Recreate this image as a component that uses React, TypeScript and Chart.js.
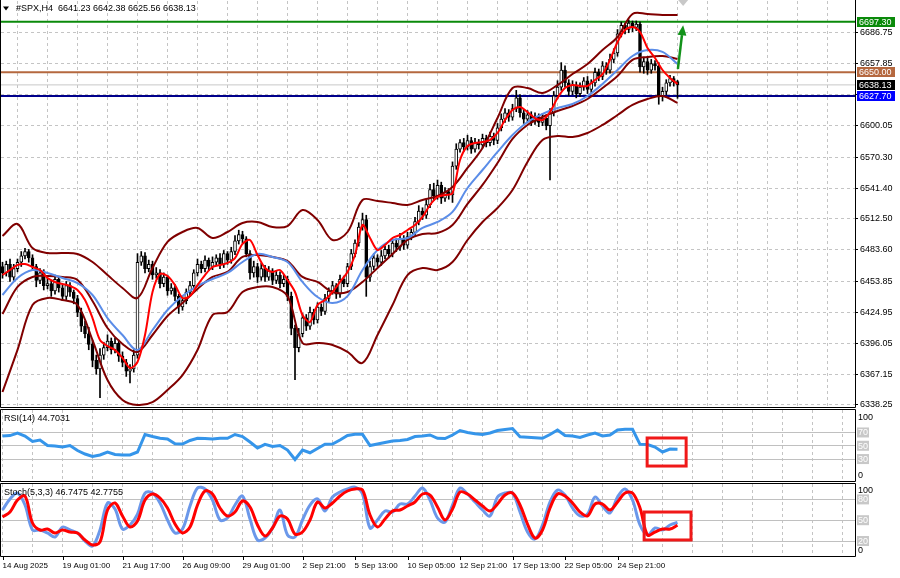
import React, { useEffect, useRef } from "react";
import { Chart, registerables } from "chart.js";

Chart.register(...registerables);

const FONT_FAMILY = '"Liberation Sans", Arial, sans-serif';
const FONT_PX = 9;
const FONT = `${FONT_PX}px ${FONT_FAMILY}`;
const XFONT = `8px ${FONT_FAMILY}`;

// ---------------- data ----------------
const symbolTitle = "#SPX,H4";
const xLabelBars = [0, 16, 32, 48, 64, 80, 94, 108, 122, 136, 150, 164];
const xLabels = [
  "14 Aug 2025", "19 Aug 01:00", "21 Aug 17:00", "26 Aug 09:00", "29 Aug 01:00", "2 Sep 21:00",
  "5 Sep 13:00", "10 Sep 05:00", "12 Sep 21:00", "17 Sep 13:00", "22 Sep 05:00", "24 Sep 21:00",
];
const priceTicks = [6338.25, 6367.15, 6396.05, 6424.95, 6453.85, 6483.6, 6512.5, 6541.4, 6570.3, 6600.05, 6628.95, 6657.85, 6686.75];
const resistanceLevel = 6697.3;
const pivotLevel = 6650.0;
const supportLevel = 6627.7;

const opens = [
  6468, 6462, 6470, 6458, 6466, 6472, 6478, 6482, 6476, 6468,
  6455, 6462, 6450, 6452, 6445, 6456, 6448, 6440, 6450, 6444,
  6438, 6425, 6412, 6405, 6395, 6380, 6372, 6385, 6392, 6398,
  6390, 6396, 6384, 6378, 6370, 6372, 6385, 6472, 6478, 6466,
  6470, 6460, 6462, 6452, 6458, 6445, 6448, 6440, 6430, 6436,
  6444, 6450, 6462, 6470, 6466, 6474, 6468, 6472, 6476, 6470,
  6480, 6474, 6482, 6492, 6498, 6494, 6480, 6462, 6468, 6458,
  6466, 6458, 6464, 6455, 6460, 6452, 6456, 6440, 6410, 6392,
  6405, 6420, 6412, 6425, 6418, 6430, 6426, 6438, 6445, 6450,
  6442, 6456, 6452, 6468, 6480, 6490, 6505, 6512, 6458, 6468,
  6476, 6472, 6478, 6484, 6480, 6490, 6486, 6494, 6488, 6496,
  6500, 6510, 6520, 6516, 6526, 6540, 6534, 6544, 6532, 6538,
  6535, 6562, 6578, 6584, 6580, 6586, 6578, 6584, 6582, 6588,
  6584, 6590, 6586, 6598, 6606, 6612, 6608, 6616, 6626, 6612,
  6606, 6610, 6604, 6608, 6603, 6607, 6600, 6612, 6628, 6636,
  6652, 6640, 6632, 6638, 6630, 6636, 6642, 6634, 6640, 6650,
  6646, 6656, 6652, 6662, 6668, 6686, 6694, 6690, 6696, 6692,
  6695, 6655, 6660, 6652, 6658, 6656, 6627, 6632, 6640, 6644,
  6641.23,
];
const highs = [
  6472, 6473, 6475, 6470, 6475, 6482, 6485, 6484, 6479, 6470,
  6466, 6465, 6457, 6455, 6460, 6458, 6451, 6454, 6453, 6446,
  6441, 6429, 6417, 6411, 6399, 6385, 6391, 6397, 6404, 6401,
  6401, 6399, 6388, 6381, 6376, 6390, 6480, 6482, 6481, 6474,
  6473, 6467, 6465, 6462, 6460, 6452, 6451, 6442, 6440, 6447,
  6454, 6465, 6475, 6473, 6478, 6476, 6477, 6479, 6480, 6483,
  6482, 6486, 6497, 6502, 6501, 6496, 6483, 6473, 6471, 6471,
  6469, 6468, 6466, 6464, 6463, 6460, 6459, 6444, 6413, 6410,
  6424, 6423, 6430, 6428, 6434, 6433, 6442, 6448, 6454, 6452,
  6460, 6459, 6471, 6484, 6493, 6509, 6518, 6516, 6473, 6480,
  6479, 6483, 6487, 6488, 6493, 6494, 6499, 6497, 6500, 6503,
  6514, 6525, 6523, 6530, 6545, 6546, 6549, 6547, 6542, 6541,
  6566, 6583, 6587, 6588, 6591, 6589, 6588, 6587, 6592, 6591,
  6594, 6593, 6602, 6611, 6616, 6615, 6620, 6633, 6629, 6615,
  6614, 6613, 6612, 6611, 6611, 6610, 6616, 6632, 6642, 6659,
  6656, 6643, 6642, 6641, 6640, 6645, 6646, 6643, 6654, 6653,
  6660, 6659, 6667, 6672, 6690, 6697, 6696, 6699, 6698, 6698,
  6697, 6664, 6663, 6662, 6661, 6659, 6636, 6643, 6647, 6646,
  6642.38,
];
const lows = [
  6457, 6459, 6454, 6455, 6463, 6468, 6475, 6472, 6465, 6449,
  6452, 6446, 6447, 6440, 6442, 6444, 6436, 6437, 6440, 6433,
  6421, 6407, 6401, 6390, 6374, 6367, 6345, 6381, 6389, 6386,
  6387, 6379, 6374, 6365, 6359, 6369, 6382, 6469, 6462, 6463,
  6456, 6457, 6448, 6449, 6441, 6442, 6436, 6424, 6427, 6433,
  6441, 6447, 6459, 6462, 6463, 6464, 6465, 6469, 6466, 6467,
  6470, 6471, 6479, 6489, 6490, 6477, 6456, 6458, 6453, 6455,
  6454, 6455, 6451, 6452, 6448, 6449, 6436, 6404, 6362, 6388,
  6402, 6408, 6409, 6414, 6415, 6422, 6423, 6435, 6442, 6438,
  6439, 6449, 6449, 6465, 6477, 6487, 6502, 6440, 6454, 6465,
  6468, 6469, 6475, 6476, 6477, 6482, 6483, 6484, 6485, 6493,
  6497, 6507, 6512, 6513, 6523, 6530, 6531, 6527, 6529, 6531,
  6528, 6559, 6575, 6576, 6577, 6574, 6575, 6578, 6579, 6580,
  6581, 6582, 6583, 6595, 6603, 6604, 6605, 6613, 6608, 6602,
  6603, 6600, 6601, 6599, 6600, 6596, 6549, 6609, 6625, 6633,
  6636, 6628, 6629, 6626, 6627, 6633, 6630, 6631, 6637, 6642,
  6643, 6648, 6649, 6659, 6665, 6683, 6686, 6687, 6688, 6689,
  6650, 6649, 6648, 6649, 6652, 6620, 6623, 6629, 6637, 6637,
  6625.56,
];
const closes = [
  6462, 6470, 6458, 6466, 6472, 6478, 6482, 6476, 6468, 6455,
  6462, 6450, 6452, 6445, 6456, 6448, 6440, 6450, 6444, 6438,
  6425, 6412, 6405, 6395, 6380, 6372, 6385, 6392, 6398, 6390,
  6396, 6384, 6378, 6370, 6372, 6385, 6472, 6478, 6466, 6470,
  6460, 6462, 6452, 6458, 6445, 6448, 6440, 6430, 6436, 6444,
  6450, 6462, 6470, 6466, 6474, 6468, 6472, 6476, 6470, 6480,
  6474, 6482, 6492, 6498, 6494, 6480, 6462, 6468, 6458, 6466,
  6458, 6464, 6455, 6460, 6452, 6456, 6440, 6410, 6392, 6405,
  6420, 6412, 6425, 6418, 6430, 6426, 6438, 6445, 6450, 6442,
  6456, 6452, 6468, 6480, 6490, 6505, 6512, 6458, 6468, 6476,
  6472, 6478, 6484, 6480, 6490, 6486, 6494, 6488, 6496, 6500,
  6510, 6520, 6516, 6526, 6540, 6534, 6544, 6532, 6538, 6535,
  6562, 6578, 6584, 6580, 6586, 6578, 6584, 6582, 6588, 6584,
  6590, 6586, 6598, 6606, 6612, 6608, 6616, 6626, 6612, 6606,
  6610, 6604, 6608, 6603, 6607, 6600, 6612, 6628, 6636, 6652,
  6640, 6632, 6638, 6630, 6636, 6642, 6634, 6640, 6650, 6646,
  6656, 6652, 6662, 6668, 6686, 6694, 6690, 6696, 6692, 6695,
  6655, 6660, 6652, 6658, 6656, 6627, 6632, 6640, 6644, 6641.23,
  6638.13,
];

// band / slow MA values, one every 4 bars
const bandStep = 4;
const bbUpper = [
  6496.6, 6507.8, 6485.3, 6480.6, 6480.6, 6479.7, 6472.2, 6460.0, 6447.9, 6438.5,
  6466.6, 6491.0, 6500.3, 6504.1, 6494.7, 6500.3, 6508.7, 6509.7, 6505.0, 6505.9,
  6520.9, 6511.6, 6492.8, 6500.3, 6530.3, 6529.3, 6527.5, 6525.6, 6530.3, 6534.0,
  6542.5, 6560.3, 6579.0, 6607.1, 6635.2, 6635.2, 6630.5, 6638.0, 6648.3, 6657.7,
  6670.8, 6683.0, 6704.6, 6704.6, 6703.6, 6703.6,
];
const bbMiddle = [
  6423.5, 6448.8, 6458.2, 6459.1, 6458.2, 6455.3, 6435.6, 6410.4, 6395.4, 6387.9,
  6403.8, 6421.6, 6433.8, 6446.9, 6458.2, 6462.9, 6476.9, 6478.8, 6476.9, 6473.1,
  6458.2, 6453.5, 6444.1, 6444.1, 6453.5, 6466.6, 6479.7, 6492.8, 6498.4, 6499.4,
  6506.9, 6526.6, 6544.4, 6565.0, 6587.5, 6600.6, 6608.1, 6613.7, 6618.4, 6624.9,
  6635.2, 6646.5, 6661.5, 6664.3, 6665.2, 6662.4,
];
const bbLower = [
  6350.4, 6389.8, 6431.9, 6438.5, 6436.6, 6431.9, 6399.1, 6361.6, 6342.9, 6338.2,
  6341.0, 6352.3, 6366.3, 6389.8, 6422.5, 6425.4, 6444.1, 6448.8, 6448.8, 6440.3,
  6396.3, 6396.3, 6394.4, 6387.9, 6377.6, 6403.8, 6431.9, 6460.0, 6466.6, 6464.7,
  6472.2, 6492.8, 6509.7, 6522.8, 6539.7, 6565.9, 6586.5, 6590.2, 6589.3, 6593.1,
  6600.6, 6609.9, 6619.3, 6624.9, 6627.7, 6621.2,
];
const maSlow = [
  6441.3, 6457.2, 6464.7, 6461.9, 6457.2, 6452.5, 6441.3, 6419.7, 6403.8, 6389.8,
  6408.5, 6427.2, 6440.3, 6449.7, 6456.3, 6461.9, 6472.2, 6479.7, 6476.9, 6472.2,
  6453.5, 6439.4, 6433.8, 6440.3, 6464.7, 6483.4, 6492.8, 6494.7, 6504.1, 6509.7,
  6519.1, 6541.5, 6558.4, 6575.3, 6591.2, 6603.4, 6610.9, 6616.5, 6620.2, 6627.7,
  6639.0, 6652.1, 6665.2, 6670.8, 6669.0, 6657.7,
];

// fast MA and oscillators, one every 2 bars
const fastStep = 2;
const maFast = [
  6460.0, 6464.7, 6469.4, 6470.3, 6467.5, 6464.7, 6457.2, 6453.5, 6451.6, 6449.7,
  6446.0, 6436.6, 6419.7, 6399.1, 6393.5, 6389.8, 6382.3, 6372.9, 6378.5, 6403.8,
  6444.1, 6461.0, 6459.1, 6450.6, 6438.5, 6440.3, 6450.6, 6460.0, 6467.5, 6469.4,
  6471.3, 6475.9, 6489.1, 6492.8, 6478.8, 6466.6, 6462.9, 6464.7, 6455.3, 6444.1,
  6422.5, 6416.0, 6431.9, 6436.6, 6444.1, 6453.5, 6462.9, 6478.8, 6506.9, 6494.7,
  6483.4, 6488.1, 6494.7, 6497.5, 6502.2, 6506.9, 6514.4, 6525.6, 6533.1, 6535.0,
  6536.8, 6567.8, 6580.9, 6583.7, 6584.6, 6586.5, 6593.1, 6605.2, 6614.6, 6617.4,
  6612.7, 6607.1, 6605.2, 6612.7, 6625.9, 6635.2, 6638.0, 6637.1, 6637.1, 6642.7,
  6648.3, 6661.5, 6678.3, 6689.6, 6692.4, 6687.7, 6672.7, 6663.3, 6652.1, 6644.6,
  6639.0,
];
const rsiValues = [
  64.7, 65.3, 69.2, 64.7, 56.4, 58.6, 50.4, 49.6, 48.1, 50.4,
  42.9, 37.6, 33.8, 36.1, 40.6, 36.8, 36.1, 36.1, 40.6, 66.9,
  63.9, 61.2, 60.2, 52.9, 52.6, 57.9, 61.2, 60.9, 60.2, 61.2,
  61.2, 66.9, 63.9, 55.6, 46.6, 52.2, 48.9, 50.4, 43.6, 29.3,
  43.6, 39.5, 45.9, 52.2, 52.6, 58.6, 65.4, 67.2, 67.2, 50.4,
  52.6, 54.9, 57.1, 57.9, 59.4, 63.9, 64.7, 66.2, 61.2, 60.9,
  66.2, 72.9, 69.9, 68.0, 66.9, 69.2, 72.9, 74.4, 75.9, 63.6,
  62.7, 62.0, 61.2, 66.9, 73.7, 65.4, 64.7, 62.4, 66.2, 69.2,
  64.7, 66.2, 73.7, 74.7, 74.7, 52.2, 51.9, 48.1, 40.6, 45.1,
  44.7031,
];
const stochMain = [
  64.7, 80.6, 89.2, 71.9, 35.9, 35.9, 31.6, 25.8, 40.2, 35.9,
  31.6, 20.0, 12.8, 35.9, 74.8, 66.1, 37.3, 43.1, 58.9, 89.2,
  89.2, 74.8, 50.3, 31.6, 37.3, 70.5, 96.4, 95.0, 79.1, 50.3,
  53.2, 71.9, 84.9, 51.7, 21.5, 24.3, 38.8, 64.7, 28.7, 25.8,
  50.3, 71.9, 80.6, 63.3, 83.4, 90.6, 95.0, 97.8, 87.8, 38.8,
  50.3, 63.3, 61.8, 73.3, 73.3, 84.9, 96.4, 79.1, 53.2, 47.4,
  71.9, 96.4, 87.8, 76.2, 64.7, 56.1, 83.4, 89.2, 89.2, 61.8,
  33.0, 22.9, 43.1, 76.2, 93.5, 86.3, 67.6, 56.1, 58.9, 83.4,
  70.5, 60.4, 83.4, 95.0, 79.1, 43.1, 28.7, 38.8, 35.9, 43.1,
  46.7475,
];
const stochSignal = [
  54.6, 61.8, 79.1, 84.9, 46.0, 35.9, 37.3, 31.6, 35.9, 33.0,
  31.6, 21.5, 14.3, 18.6, 64.7, 74.8, 56.1, 40.2, 48.9, 79.1,
  87.8, 82.0, 67.6, 44.5, 31.6, 40.2, 71.9, 92.1, 87.8, 67.6,
  56.1, 61.8, 77.7, 69.0, 43.1, 27.2, 38.8, 56.1, 51.7, 30.1,
  33.0, 50.3, 76.2, 67.6, 74.8, 84.9, 92.1, 95.0, 93.5, 57.5,
  40.2, 51.7, 63.3, 64.7, 70.5, 76.2, 87.8, 86.3, 69.0, 50.3,
  66.1, 90.6, 87.8, 79.1, 70.5, 63.3, 73.3, 86.3, 89.2, 71.9,
  44.5, 24.3, 35.9, 67.6, 87.8, 84.9, 74.8, 61.8, 56.1, 73.3,
  73.3, 64.7, 76.2, 89.2, 89.2, 67.6, 28.7, 33.0, 37.3, 37.3,
  42.7755,
];
const rsiLevels = [30, 50, 70];
const stochLevels = [20, 50, 80];

// ---------------- layout / style ----------------
const X_MIN = -0.4;
const X_MAX = 227.33;
const GRID_BARS = Array.from({ length: 29 }, (_, k) => k * 8);
const GRID_COLOR = "#c4c4c4";
const LEVEL_COLOR = "#c0c0c0";

const series = (vals: number[], step: number) => vals.map((v, k) => ({ x: k * step, y: v }));

const lineDs = (vals: number[], step: number, color: string, width: number, order: number, tension = 0.35) => ({
  type: "line" as const,
  data: series(vals, step),
  borderColor: color,
  borderWidth: width,
  pointRadius: 0,
  tension,
  order,
});

const xScaleOpts = () => ({
  type: "linear" as const,
  min: X_MIN,
  max: X_MAX,
  offset: false,
  afterBuildTicks: (s: any) => {
    s.ticks = GRID_BARS.map((v) => ({ value: v }));
  },
  afterFit: (s: any) => {
    s.height = 0;
    s.paddingLeft = 0;
    s.paddingRight = 0;
  },
  ticks: { display: false },
  grid: { color: GRID_COLOR, lineWidth: 1, drawTicks: false },
  border: { display: false, dash: [3, 3] },
});

const baseOptions = (padding: any) => ({
  responsive: false,
  maintainAspectRatio: false,
  animation: false as const,
  events: [] as any[],
  layout: { padding },
  plugins: { legend: { display: false }, tooltip: { enabled: false } },
});

const drawFrame = (ctx: CanvasRenderingContext2D, a: any, top: boolean) => {
  ctx.save();
  ctx.strokeStyle = "#000";
  ctx.lineWidth = 1;
  ctx.beginPath();
  if (top) {
    ctx.moveTo(a.left - 0.5, a.top - 0.5);
    ctx.lineTo(a.right + 0.5, a.top - 0.5);
  }
  ctx.moveTo(a.left - 0.5, top ? a.top - 0.5 : 0);
  ctx.lineTo(a.left - 0.5, a.bottom + 0.5);
  ctx.lineTo(a.right + 0.5, a.bottom + 0.5);
  ctx.lineTo(a.right + 0.5, top ? a.top - 0.5 : 0);
  ctx.stroke();
  ctx.restore();
};

const drawRedBox = (chart: any, box: number[]) => {
  const { ctx, scales } = chart;
  const x0 = scales.x.getPixelForValue(box[0]);
  const x1 = scales.x.getPixelForValue(box[1]);
  const y0 = scales.y.getPixelForValue(box[2]);
  const y1 = scales.y.getPixelForValue(box[3]);
  ctx.save();
  ctx.strokeStyle = "#f01818";
  ctx.lineWidth = 3;
  ctx.strokeRect(x0, y0, x1 - x0, y1 - y0);
  ctx.restore();
};

const drawLevelLabels = (chart: any, items: [number, number, boolean][]) => {
  const { ctx, chartArea: a, scales } = chart;
  ctx.save();
  ctx.font = FONT;
  ctx.textBaseline = "middle";
  ctx.textAlign = "left";
  items.forEach(([v, off, boxed]) => {
    const py = scales.y.getPixelForValue(v) + off;
    if (boxed) {
      ctx.fillStyle = "#c8c8c8";
      ctx.fillRect(a.right + 2, py - 5, 12, 10);
      ctx.fillStyle = "#ffffff";
    } else {
      ctx.fillStyle = "#000";
    }
    ctx.fillText(String(v), a.right + 3, py + 0.5);
  });
  ctx.restore();
};

// ---------------- charts ----------------
function buildMain(canvas: HTMLCanvasElement) {
  const n = closes.length - 1;
  const last = closes[n];
  const levelDs = (v: number, color: string, w: number) => ({
    type: "line" as const,
    data: [{ x: X_MIN, y: v }, { x: X_MAX, y: v }],
    borderColor: color,
    borderWidth: w,
    pointRadius: 0,
    order: 20,
  });
  const tags: [number, string][] = [
    [resistanceLevel, "#0a8a0a"],
    [pivotLevel, "#b5683f"],
    [last, "#000000"],
    [supportLevel, "#0000ff"],
  ];
  const decor = {
    id: "mainDecor",
    afterDraw(chart: any) {
      const { ctx, chartArea: a, scales } = chart;
      const { x, y } = scales;
      drawFrame(ctx, a, false);
      ctx.save();
      ctx.font = FONT;
      ctx.textBaseline = "middle";
      ctx.textAlign = "left";
      // price tags
      tags.forEach(([v, bg]) => {
        const py = Math.round(y.getPixelForValue(v));
        ctx.fillStyle = bg;
        ctx.fillRect(a.right + 2, py - 5, 38, 10);
        ctx.fillStyle = "#fff";
        ctx.fillText(v.toFixed(2), a.right + 4, py + 0.5);
      });
      // header
      ctx.fillStyle = "#000";
      ctx.beginPath();
      ctx.moveTo(3, 6.5);
      ctx.lineTo(9, 6.5);
      ctx.lineTo(6, 10.5);
      ctx.closePath();
      ctx.fill();
      const hdr = `${symbolTitle}  ${opens[n].toFixed(2)} ${highs[n].toFixed(2)} ${lows[n].toFixed(2)} ${closes[n].toFixed(2)}`;
      ctx.fillText(hdr, 16, 9);
      // chart-shift marker
      const sx = x.getPixelForValue(181.5);
      ctx.fillStyle = "#c8c8c8";
      ctx.beginPath();
      ctx.moveTo(sx - 5, 0);
      ctx.lineTo(sx + 5, 0);
      ctx.lineTo(sx, 6);
      ctx.closePath();
      ctx.fill();
      // green arrow
      const ax0 = x.getPixelForValue(180.1);
      const ay0 = y.getPixelForValue(6653);
      const ax1 = x.getPixelForValue(181.5);
      const ay1 = y.getPixelForValue(6694);
      const ang = Math.atan2(ay1 - ay0, ax1 - ax0);
      const hl = 10;
      const hw = 4.5;
      const bx = ax1 - hl * Math.cos(ang);
      const by = ay1 - hl * Math.sin(ang);
      ctx.strokeStyle = "#12921a";
      ctx.fillStyle = "#12921a";
      ctx.lineWidth = 2.5;
      ctx.beginPath();
      ctx.moveTo(ax0, ay0);
      ctx.lineTo(bx, by);
      ctx.stroke();
      ctx.beginPath();
      ctx.moveTo(ax1, ay1);
      ctx.lineTo(bx + hw * Math.sin(ang), by - hw * Math.cos(ang));
      ctx.lineTo(bx - hw * Math.sin(ang), by + hw * Math.cos(ang));
      ctx.closePath();
      ctx.fill();
      ctx.restore();
    },
  };
  return new Chart(canvas, {
    type: "line",
    data: {
      datasets: [
        levelDs(resistanceLevel, "#0a8a0a", 2),
        levelDs(pivotLevel, "#b5683f", 2),
        levelDs(last, "#c8c8c8", 1),
        levelDs(supportLevel, "#00008b", 2),
        {
          type: "bar",
          data: closes.map((_, i) => ({ x: i, y: [lows[i], highs[i]] })),
          backgroundColor: "#000",
          borderWidth: 0,
          barThickness: 1,
          grouped: false,
          order: 16,
        } as any,
        {
          type: "bar",
          data: closes.map((c, i) => ({ x: i, y: [opens[i], c] })),
          backgroundColor: (c: any) => (closes[c.dataIndex] >= opens[c.dataIndex] ? "#ffffff" : "#000000"),
          borderColor: "#000",
          borderWidth: 1,
          borderSkipped: false,
          barThickness: 3,
          grouped: false,
          order: 15,
        } as any,
        lineDs(bbUpper, bandStep, "#800000", 2, 6),
        lineDs(bbMiddle, bandStep, "#800000", 2, 6),
        lineDs(bbLower, bandStep, "#800000", 2, 6),
        lineDs(maSlow, bandStep, "#5b8de8", 2, 5),
        lineDs(maFast, fastStep, "#ff0000", 2, 4, 0.3),
      ],
    },
    options: {
      ...baseOptions({ top: 1, bottom: 2, left: 1, right: 0 }),
      scales: {
        x: xScaleOpts(),
        y: {
          type: "linear",
          position: "right",
          min: 6336.35,
          max: 6716.73,
          afterBuildTicks: (s: any) => {
            s.ticks = priceTicks.map((v) => ({ value: v }));
          },
          afterFit: (s: any) => {
            s.width = 45;
            s.paddingTop = 0;
            s.paddingBottom = 0;
          },
          ticks: {
            color: "#000",
            font: { family: FONT_FAMILY, size: FONT_PX },
            padding: 2,
            autoSkip: false,
            callback: (v: any) => Number(v).toFixed(2),
          },
          grid: { color: GRID_COLOR, lineWidth: 1, drawTicks: true, tickLength: 3, tickColor: "#000", tickWidth: 1 },
          border: { display: false, dash: [3, 3] },
        },
      },
    } as any,
    plugins: [decor],
  });
}

function buildRsi(canvas: HTMLCanvasElement) {
  const n = rsiValues.length - 1;
  const decor = {
    id: "rsiDecor",
    afterDraw(chart: any) {
      const { ctx, chartArea: a } = chart;
      drawFrame(ctx, a, true);
      drawRedBox(chart, [171.9, 182.3, 61.7, 19.5]);
      drawLevelLabels(chart, [
        [100, 4.5, false],
        [70, 0, true],
        [50, 0, true],
        [30, 0, true],
        [0, -4, false],
      ]);
      ctx.save();
      ctx.font = FONT;
      ctx.fillStyle = "#000";
      ctx.textBaseline = "middle";
      ctx.fillText(`RSI(14) ${rsiValues[n].toFixed(4)}`, 4, a.top + 9);
      ctx.restore();
    },
  };
  return new Chart(canvas, {
    type: "line",
    data: { datasets: [lineDs(rsiValues, fastStep, "#3595ea", 3, 1, 0)] },
    options: {
      ...baseOptions({ top: 1, bottom: 2, left: 1, right: 0 }),
      scales: {
        x: xScaleOpts(),
        y: {
          type: "linear",
          position: "right",
          min: -3.0,
          max: 103.8,
          afterBuildTicks: (s: any) => {
            s.ticks = rsiLevels.map((v) => ({ value: v }));
          },
          afterFit: (s: any) => {
            s.width = 45;
            s.paddingTop = 0;
            s.paddingBottom = 0;
          },
          ticks: { display: false },
          grid: { color: LEVEL_COLOR, lineWidth: 1, drawTicks: false },
          border: { display: false },
        },
      },
    } as any,
    plugins: [decor],
  });
}

function buildStoch(canvas: HTMLCanvasElement) {
  const n = stochMain.length - 1;
  const decor = {
    id: "stochDecor",
    afterDraw(chart: any) {
      const { ctx, chartArea: a, scales } = chart;
      drawFrame(ctx, a, true);
      drawRedBox(chart, [171.1, 183.6, 61.8, 21.5]);
      drawLevelLabels(chart, [
        [100, 4.5, false],
        [80, 0, true],
        [50, 0, true],
        [20, 0, true],
        [0, -5, false],
      ]);
      ctx.save();
      ctx.font = FONT;
      ctx.fillStyle = "#000";
      ctx.strokeStyle = "#000";
      ctx.lineWidth = 1;
      ctx.textBaseline = "middle";
      ctx.textAlign = "left";
      ctx.fillText(`Stoch(5,3,3) ${stochMain[n].toFixed(4)} ${stochSignal[n].toFixed(4)}`, 4, a.top + 9);
      ctx.font = XFONT;
      xLabelBars.forEach((b, k) => {
        const px = Math.round(scales.x.getPixelForValue(b)) + 0.5;
        ctx.beginPath();
        ctx.moveTo(px, a.bottom);
        ctx.lineTo(px, a.bottom + 4);
        ctx.stroke();
        ctx.fillText(xLabels[k], px - 1, a.bottom + 9.5);
      });
      ctx.restore();
    },
  };
  return new Chart(canvas, {
    type: "line",
    data: {
      datasets: [
        lineDs(stochMain, fastStep, "#6b98ea", 3, 2, 0.35),
        lineDs(stochSignal, fastStep, "#ff0000", 3, 1, 0.35),
      ],
    },
    options: {
      ...baseOptions({ top: 1, bottom: 22, left: 1, right: 0 }),
      scales: {
        x: xScaleOpts(),
        y: {
          type: "linear",
          position: "right",
          min: -1.6,
          max: 102.2,
          afterBuildTicks: (s: any) => {
            s.ticks = stochLevels.map((v) => ({ value: v }));
          },
          afterFit: (s: any) => {
            s.width = 45;
            s.paddingTop = 0;
            s.paddingBottom = 0;
          },
          ticks: { display: false },
          grid: { color: LEVEL_COLOR, lineWidth: 1, drawTicks: false },
          border: { display: false },
        },
      },
    } as any,
    plugins: [decor],
  });
}

export default function App() {
  const mainRef = useRef<HTMLCanvasElement>(null);
  const rsiRef = useRef<HTMLCanvasElement>(null);
  const stochRef = useRef<HTMLCanvasElement>(null);

  useEffect(() => {
    const charts: Chart[] = [];
    if (mainRef.current) charts.push(buildMain(mainRef.current));
    if (rsiRef.current) charts.push(buildRsi(rsiRef.current));
    if (stochRef.current) charts.push(buildStoch(stochRef.current));
    return () => charts.forEach((c) => c.destroy());
  }, []);

  const cv = (top: number, h: number): React.CSSProperties => ({
    position: "absolute",
    left: 0,
    top,
    width: 900,
    height: h,
    display: "block",
  });

  return (
    <div style={{ position: "absolute", left: 0, top: 0, width: 900, height: 578, background: "#fff", overflow: "hidden" }}>
      <canvas ref={mainRef} width={900} height={409} style={cv(0, 409)} />
      <canvas ref={rsiRef} width={900} height={74} style={cv(409, 74)} />
      <canvas ref={stochRef} width={900} height={95} style={cv(483, 95)} />
    </div>
  );
}
